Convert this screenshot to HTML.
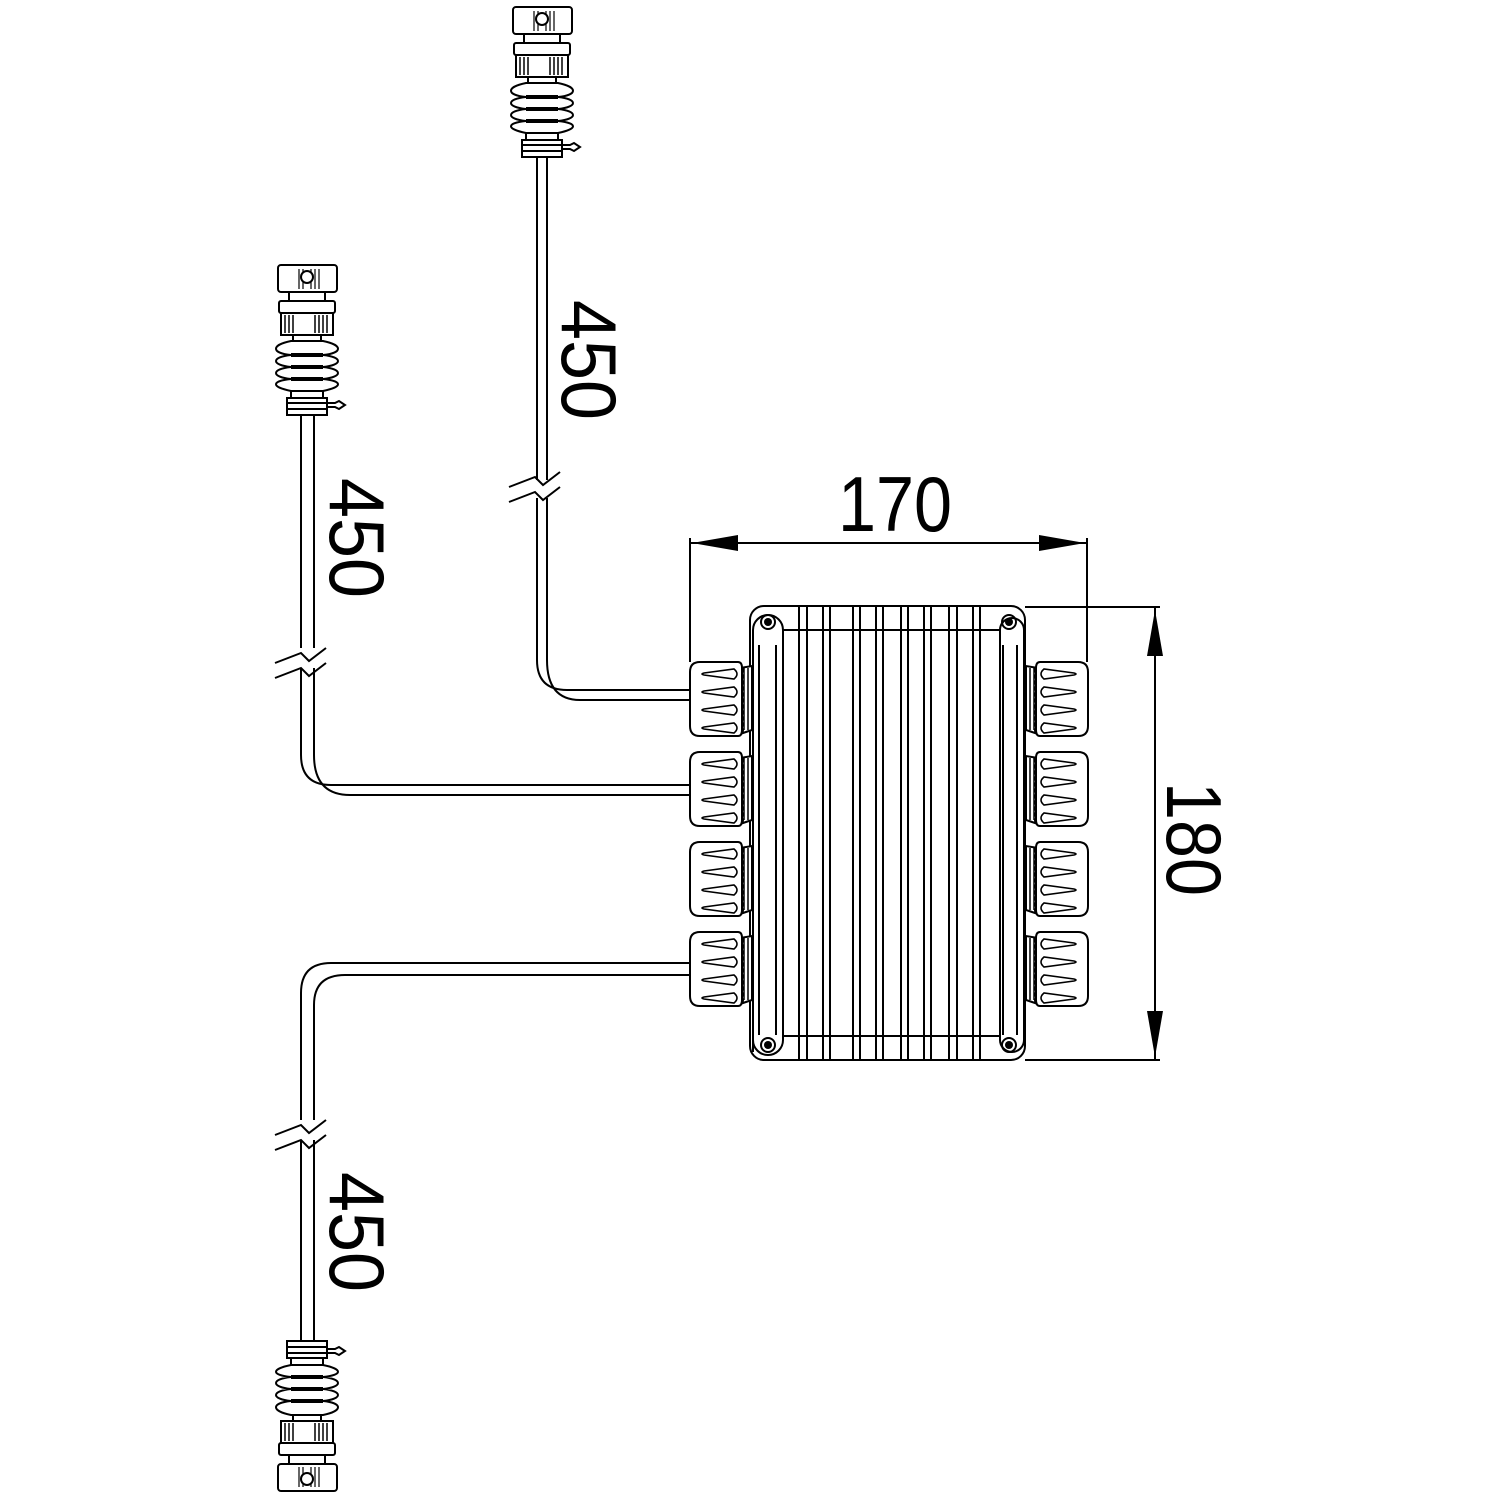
<!DOCTYPE html>
<html><head><style>body{margin:0;background:#fff}svg{display:block}</style></head>
<body>
<svg width="1500" height="1500" viewBox="0 0 1500 1500" xmlns="http://www.w3.org/2000/svg">
<defs>
<g id="conn" fill="#fff" stroke="#000" stroke-width="2">
  <rect x="-20" y="-17" width="40" height="17"/>
  <line x1="-20" y1="-12" x2="20" y2="-12"/><line x1="-20" y1="-6" x2="20" y2="-6"/>
  <path d="M20,-12 h8 l4,-2 l6,4 l-6,4 l-4,-2 h-8z"/>
  <rect x="-16" y="-24" width="32" height="7"/>
  <path d="M-16,-24 C-36,-28 -36,-34 -16,-36 C-36,-38 -36,-46 -16,-48 C-36,-50 -36,-58 -16,-60 C-36,-62 -36,-70 -16,-74 L16,-74 C36,-70 36,-62 16,-60 C36,-58 36,-50 16,-48 C36,-46 36,-38 16,-36 C36,-34 36,-28 16,-24 Z"/>
  <line x1="-16" y1="-36" x2="16" y2="-36" stroke-width="4"/>
  <line x1="-16" y1="-48" x2="16" y2="-48" stroke-width="4"/>
  <line x1="-16" y1="-60" x2="16" y2="-60" stroke-width="4"/>
  <rect x="-14" y="-82" width="28" height="8"/>
  <rect x="-26" y="-102" width="52" height="22"/>
  <path d="M-22,-100 v18 M-18,-100 v18 M-14,-100 v18 M8,-100 v18 M12,-100 v18 M16,-100 v18 M20,-100 v18" stroke-width="1.5"/>
  <rect x="-28" y="-114" width="56" height="12" rx="2"/>
  <rect x="-18" y="-124" width="36" height="10"/>
  <rect x="-29" y="-150" width="59" height="27" rx="3"/>
  <path d="M-8,-146 v20 M-4,-146 v20 M4,-146 v20 M8,-146 v20 M12,-146 v20" stroke-width="1.2"/>
  <circle cx="0" cy="-138" r="6"/>
</g>
<g id="glandL" fill="#fff" stroke="#000" stroke-width="2">
  <path d="M50,6 c4,0 4,4 0,6 c4,0 4,4 0,6 c4,0 4,4 0,6 c4,0 4,4 0,6 c4,0 4,4 0,6 c4,0 4,4 0,6 c4,0 4,4 0,6 c4,0 4,4 0,6 c4,0 4,4 0,6 c4,0 4,4 0,6 c4,0 4,4 0,6 L62,68 V4 Z"/>
  <path d="M54,6 v62 M58,6 v62" stroke-width="1.5"/>
  <path d="M10,0 H48 Q52,0 52,6 V68 Q52,74 48,74 H10 Q0,74 0,64 V10 Q0,0 10,0 Z"/>
  <path d="M44,7 Q50,12 44,17 L14,13 Q10,12 14,11 Z M44,25 Q50,30 44,35 L14,31 Q10,30 14,29 Z M44,43 Q50,48 44,53 L14,49 Q10,48 14,47 Z M44,61 Q50,66 44,71 L14,67 Q10,66 14,65 Z" stroke-width="1.6"/>
</g>
</defs>

<g fill="none" stroke="#000" stroke-width="2">
<rect x="750" y="606" width="275" height="454" rx="14" fill="#fff"/>
<line x1="782" y1="630" x2="1000" y2="630"/>
<line x1="782" y1="1036" x2="1000" y2="1036"/>
<path d="M753,1052 V630 a15,15 0 0 1 30,0 V1040 a15,15 0 0 1 -30,0"/>
<path d="M759,645 V1035 M776,645 V1035"/>
<path d="M1000,1040 V630 a12,12 0 0 1 24,0 V1040 a12,12 0 0 1 -24,0"/>
<path d="M1003,645 V1035 M1017,645 V1035"/>
<path d="M799,607 V1059 M807,607 V1059 M823,607 V1059 M830,607 V1059 M853,607 V1059 M860,607 V1059 M876,607 V1059 M883,607 V1059 M901,607 V1059 M908,607 V1059 M924,607 V1059 M931,607 V1059 M949,607 V1059 M957,607 V1059 M973,607 V1059 M980,607 V1059"/>
<circle cx="768" cy="622" r="7"/><circle cx="1009" cy="622" r="7"/>
<circle cx="768" cy="1045" r="7"/><circle cx="1009" cy="1045" r="7"/>
</g>
<g fill="#000"><circle cx="768" cy="622" r="4"/><circle cx="1009" cy="622" r="4"/><circle cx="768" cy="1045" r="4"/><circle cx="1009" cy="1045" r="4"/></g>

<use href="#glandL" transform="translate(690,662)"/>
<use href="#glandL" transform="translate(690,752)"/>
<use href="#glandL" transform="translate(690,842)"/>
<use href="#glandL" transform="translate(690,932)"/>
<use href="#glandL" transform="translate(1088,662) scale(-1,1)"/>
<use href="#glandL" transform="translate(1088,752) scale(-1,1)"/>
<use href="#glandL" transform="translate(1088,842) scale(-1,1)"/>
<use href="#glandL" transform="translate(1088,932) scale(-1,1)"/>

<g fill="none" stroke="#000" stroke-width="2">
<path d="M537,155 V660 Q537,690 567,690 H690"/>
<path d="M547,155 V660 Q547,700 580,700 H690" />
<path d="M301,413 V755 Q301,785 331,785 H690"/>
<path d="M314,413 V755 Q314,795 350,795 H690"/>
<path d="M690,963 H331 Q301,963 301,993 V1342"/>
<path d="M690,975 H345 Q314,975 314,1005 V1342"/>
</g>
<g stroke="#000" stroke-width="2" fill="none">
<rect x="530" y="480" width="24" height="18" fill="#fff" stroke="none"/>
<path d="M509,487 L535,477 L543,485 L560,472"/>
<path d="M509,502 L535,492 L543,500 L560,487"/>
<rect x="294" y="648" width="26" height="20" fill="#fff" stroke="none"/>
<path d="M275,663 L301,653 L309,661 L326,648"/>
<path d="M275,678 L301,668 L309,676 L326,663"/>
<rect x="294" y="1120" width="26" height="20" fill="#fff" stroke="none"/>
<path d="M275,1135 L301,1125 L309,1133 L326,1120"/>
<path d="M275,1150 L301,1140 L309,1148 L326,1135"/>
</g>

<use href="#conn" transform="translate(542,157)"/>
<use href="#conn" transform="translate(307,415)"/>
<use href="#conn" transform="translate(307,1341) scale(1,-1)"/>

<g stroke="#000" stroke-width="2" fill="none">
<path d="M690,538 V662 M1087,538 V662"/>
<path d="M690,543 H1087"/>
<path d="M1025,607 H1160 M1025,1060 H1160"/>
<path d="M1155,607 V1060"/>
</g>
<g fill="#000">
<path d="M692,543 L738,535 L738,551 Z"/>
<path d="M1085,543 L1039,535 L1039,551 Z"/>
<path d="M1155,610 L1147,656 L1163,656 Z"/>
<path d="M1155,1057 L1147,1011 L1163,1011 Z"/>
</g>
<g font-family="'Liberation Sans', sans-serif" font-size="78" fill="#000">
<text x="838" y="531" textLength="114" lengthAdjust="spacingAndGlyphs">170</text>
<text transform="translate(1167,782) rotate(90)" textLength="114" lengthAdjust="spacingAndGlyphs">180</text>
<text transform="translate(562,300) rotate(90)" textLength="120" lengthAdjust="spacingAndGlyphs">450</text>
<text transform="translate(330,478) rotate(90)" textLength="120" lengthAdjust="spacingAndGlyphs">450</text>
<text transform="translate(330,1172) rotate(90)" textLength="120" lengthAdjust="spacingAndGlyphs">450</text>
</g>
</svg>
</body></html>
